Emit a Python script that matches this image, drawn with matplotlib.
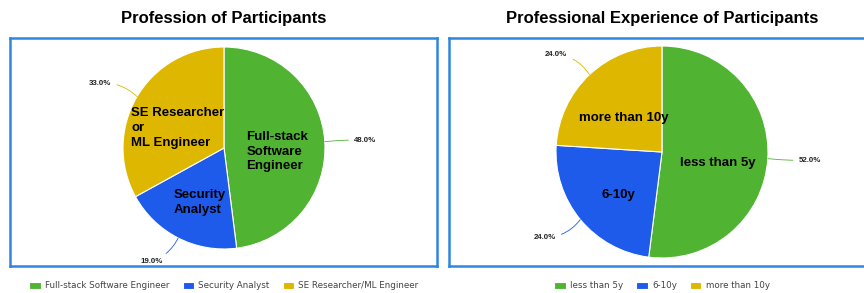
import numpy as np
import matplotlib
matplotlib.use("Agg")
import matplotlib.pyplot as plt

# data
prof_labels = ["Full-stack Software Engineer", "Security Analyst", "SE Researcher/ML Engineer"]
prof_inner = ["Full-stack\nSoftware\nEngineer", "Security\nAnalyst", "SE Researcher\nor\nML Engineer"]
prof_values = [48.0, 19.0, 33.0]

exp_labels = ["less than 5y", "6-10y", "more than 10y"]
exp_inner = ["less than 5y", "6-10y", "more than 10y"]
exp_values = [52.0, 24.0, 24.0]

colors = ["#50b432", "#1e5beb", "#deb700"]
box_color = "#2e86de"

W, H = 864, 293
fig = plt.figure(figsize=(W / 100, H / 100), dpi=100)


def draw_pie(box, center, radius, values, inner, legend_labels, title):
    x0, y0, x1, y1 = box  # pixel box, y from top
    ax = fig.add_axes([x0 / W, (H - y1) / H, (x1 - x0) / W, (y1 - y0) / H])
    cx, cy = center
    wedges, _ = ax.pie(values, colors=colors, startangle=90, counterclock=False,
                       wedgeprops=dict(edgecolor="white", linewidth=0.8))
    ax.set_xlim((x0 - cx) / radius, (x1 - cx) / radius)
    ax.set_ylim((cy - y1) / radius, (cy - y0) / radius)
    ax.set_aspect("auto")
    ax.set_frame_on(True)
    for s in ax.spines.values():
        s.set_color(box_color)
        s.set_linewidth(1.8)
    ax.set_xticks([])
    ax.set_yticks([])

    for w, v, txt, col in zip(wedges, values, inner, colors):
        th = np.deg2rad((w.theta1 + w.theta2) / 2)
        c, s = np.cos(th), np.sin(th)
        ax.text(0.53 * c, 0.53 * s - 0.07, txt, ha="center", va="center",
                multialignment="left", fontsize=9.5, fontweight="bold",
                family="Liberation Sans", color="black", linespacing=1.3)
        side = 1 if c >= 0 else -1
        ax.annotate(f"{v:.1f}%", xy=(c, s),
                    xytext=(1.26 * c + 0.03 * side, 1.26 * s),
                    ha="left" if side > 0 else "right", va="center",
                    fontsize=5.7, fontweight="bold", family="Liberation Sans",
                    color="#222222", annotation_clip=False,
                    arrowprops=dict(arrowstyle="-", color=col, lw=0.6,
                                    shrinkA=2, shrinkB=0,
                                    connectionstyle=f"arc3,rad={0.5 * s * c:.2f}"))

    fig.text(cx / W, 1 - 19 / H, title, ha="center", va="center",
             fontsize=12, fontweight="bold", family="Liberation Sans")
    fig.legend(wedges, legend_labels, loc="center", bbox_to_anchor=(cx / W, 7 / H),
               ncol=3, frameon=False, fontsize=6.3, handlelength=1.3,
               handleheight=0.9, handletextpad=0.5, columnspacing=1.5,
               labelcolor="#444444", borderaxespad=0)


draw_pie((10, 38, 437, 266), (224, 148), 101, prof_values, prof_inner,
         prof_labels, "Profession of Participants")
draw_pie((449, 38, 872, 266), (662, 152), 106, exp_values, exp_inner,
         exp_labels, "Professional Experience of Participants")

fig.savefig("out.png", dpi=100)
